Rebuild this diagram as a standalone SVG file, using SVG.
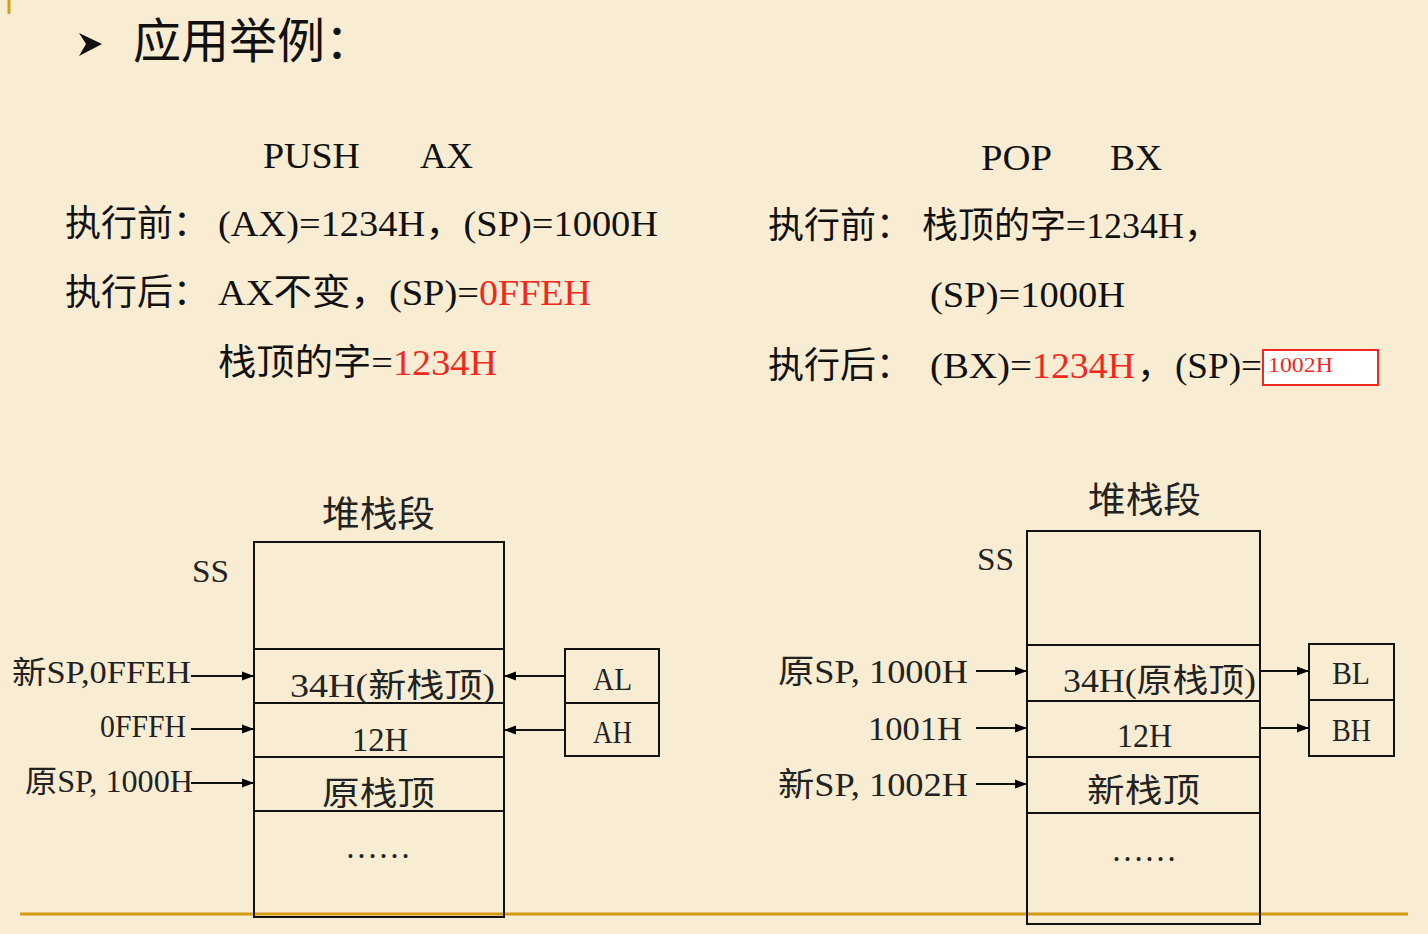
<svg xmlns="http://www.w3.org/2000/svg" width="1428" height="934" viewBox="0 0 1428 934">
<defs>
<marker id="ah" viewBox="0 0 12 10" refX="12" refY="5" markerWidth="12" markerHeight="10" markerUnits="userSpaceOnUse" orient="auto">
<path d="M0,0.5 L12,5 L0,9.5 z" fill="#000"/>
</marker>
</defs>
<style>
text{font-family:"Liberation Serif","Noto Sans CJK SC",serif;fill:#111}
.t{font-size:36px}
.red{fill:#f0281e}
.lbl{font-size:31px;fill:#222}
.cell{font-size:33px;fill:#222}
.box{fill:none;stroke:#111;stroke-width:2}
.conn line{stroke:#111;stroke-width:2;marker-end:url(#ah)}
</style>
<rect x="0" y="0" width="1428" height="934" fill="#f8edd3"/>
<line x1="9" y1="0" x2="9" y2="14" stroke="#d4a017" stroke-width="3"/>
<line x1="20" y1="914" x2="1408" y2="914" stroke="#d49a10" stroke-width="3"/>

<g id="title">
<polygon points="79,33 102,44 79,56 86,44" fill="#111"/>
<text x="133" y="58" style="font-size:48px">应用举例：</text>
</g>

<g id="push-text">
<text class="t" x="263" y="168" textLength="97" lengthAdjust="spacingAndGlyphs">PUSH</text>
<text class="t" x="420" y="168" textLength="53" lengthAdjust="spacingAndGlyphs">AX</text>
<text class="t" x="65" y="236">执行前：</text>
<text class="t" x="218" y="236" textLength="440" lengthAdjust="spacingAndGlyphs">(AX)=1234H，(SP)=1000H</text>
<text class="t" x="65" y="305">执行后：</text>
<text class="t" x="218" y="305" textLength="261" lengthAdjust="spacingAndGlyphs">AX不变，(SP)=</text>
<text class="t red" x="479" y="305" textLength="112" lengthAdjust="spacingAndGlyphs">0FFEH</text>
<text class="t" x="218" y="375" textLength="175" lengthAdjust="spacingAndGlyphs">栈顶的字=</text>
<text class="t red" x="393" y="375" textLength="104" lengthAdjust="spacingAndGlyphs">1234H</text>
</g>

<g id="pop-text">
<text class="t" x="981" y="170" textLength="71" lengthAdjust="spacingAndGlyphs">POP</text>
<text class="t" x="1110" y="170" textLength="52" lengthAdjust="spacingAndGlyphs">BX</text>
<text class="t" x="768" y="238">执行前：</text>
<text class="t" x="922" y="238" textLength="298" lengthAdjust="spacingAndGlyphs">栈顶的字=1234H，</text>
<text class="t" x="930" y="307" textLength="195" lengthAdjust="spacingAndGlyphs">(SP)=1000H</text>
<text class="t" x="768" y="378">执行后：</text>
<text class="t" x="930" y="378" textLength="102" lengthAdjust="spacingAndGlyphs">(BX)=</text>
<text class="t red" x="1032" y="378" textLength="103" lengthAdjust="spacingAndGlyphs">1234H</text>
<text class="t" x="1137" y="378">，</text>
<text class="t" x="1175" y="378" textLength="87" lengthAdjust="spacingAndGlyphs">(SP)=</text>
<rect x="1263" y="350" width="115" height="35" fill="#fff" stroke="#f0281e" stroke-width="2"/>
<text x="1268" y="372" class="red" style="font-size:20px" textLength="65" lengthAdjust="spacingAndGlyphs">1002H</text>
</g>

<g id="left-stack">
<text x="322" y="527" class="t" style="fill:#222" textLength="113" lengthAdjust="spacingAndGlyphs">堆栈段</text>
<text x="192" y="582" class="lbl" textLength="37" lengthAdjust="spacingAndGlyphs">SS</text>
<rect class="box" x="254" y="542" width="250" height="375"/>
<line class="box" x1="254" y1="649" x2="504" y2="649"/>
<line class="box" x1="254" y1="703" x2="504" y2="703"/>
<line class="box" x1="254" y1="757" x2="504" y2="757"/>
<line class="box" x1="254" y1="811" x2="504" y2="811"/>
<text x="290" y="697" class="cell" textLength="205" lengthAdjust="spacingAndGlyphs">34H(新栈顶)</text>
<text x="352" y="751" class="cell" textLength="56" lengthAdjust="spacingAndGlyphs">12H</text>
<text x="322" y="805" class="cell" textLength="113" lengthAdjust="spacingAndGlyphs">原栈顶</text>
<text x="378" y="858" class="cell" text-anchor="middle">……</text>
</g>

<g id="left-labels">
<text x="12" y="683" class="lbl" textLength="179" lengthAdjust="spacingAndGlyphs">新SP,0FFEH</text>
<text x="100" y="737" class="lbl" textLength="86" lengthAdjust="spacingAndGlyphs">0FFFH</text>
<text x="25" y="792" class="lbl" textLength="168" lengthAdjust="spacingAndGlyphs">原SP, 1000H</text>
</g>

<g id="ax-reg">
<rect class="box" x="565" y="649" width="94" height="107"/>
<line class="box" x1="565" y1="703" x2="659" y2="703"/>
<text x="593" y="690" class="lbl" textLength="39" lengthAdjust="spacingAndGlyphs">AL</text>
<text x="593" y="743" class="lbl" textLength="39" lengthAdjust="spacingAndGlyphs">AH</text>
</g>

<g id="right-stack">
<text x="1088" y="513" class="t" style="fill:#222" textLength="113" lengthAdjust="spacingAndGlyphs">堆栈段</text>
<text x="977" y="570" class="lbl" textLength="37" lengthAdjust="spacingAndGlyphs">SS</text>
<rect class="box" x="1027" y="531" width="233" height="393"/>
<line class="box" x1="1027" y1="645" x2="1260" y2="645"/>
<line class="box" x1="1027" y1="701" x2="1260" y2="701"/>
<line class="box" x1="1027" y1="757" x2="1260" y2="757"/>
<line class="box" x1="1027" y1="813" x2="1260" y2="813"/>
<text x="1063" y="692" class="cell" textLength="193" lengthAdjust="spacingAndGlyphs">34H(原栈顶)</text>
<text x="1117" y="747" class="cell" textLength="55" lengthAdjust="spacingAndGlyphs">12H</text>
<text x="1087" y="802" class="cell" textLength="113" lengthAdjust="spacingAndGlyphs">新栈顶</text>
<text x="1144" y="861" class="cell" text-anchor="middle">……</text>
</g>

<g id="right-labels">
<text x="778" y="683" class="lbl" style="font-size:33px" textLength="190" lengthAdjust="spacingAndGlyphs">原SP, 1000H</text>
<text x="868" y="740" class="lbl" style="font-size:33px" textLength="94" lengthAdjust="spacingAndGlyphs">1001H</text>
<text x="778" y="796" class="lbl" style="font-size:33px" textLength="190" lengthAdjust="spacingAndGlyphs">新SP, 1002H</text>
</g>

<g id="bx-reg">
<rect class="box" x="1309" y="644" width="85" height="112"/>
<line class="box" x1="1309" y1="700" x2="1394" y2="700"/>
<text x="1332" y="684" class="lbl" textLength="38" lengthAdjust="spacingAndGlyphs">BL</text>
<text x="1332" y="741" class="lbl" textLength="39" lengthAdjust="spacingAndGlyphs">BH</text>
</g>

<g id="connectors" class="conn">
<line x1="191" y1="676" x2="254" y2="676"/>
<line x1="191" y1="729" x2="254" y2="729"/>
<line x1="191" y1="783" x2="254" y2="783"/>
<line x1="565" y1="676" x2="504" y2="676"/>
<line x1="565" y1="730" x2="504" y2="730"/>
<line x1="976" y1="671" x2="1027" y2="671"/>
<line x1="976" y1="728" x2="1027" y2="728"/>
<line x1="976" y1="784" x2="1027" y2="784"/>
<line x1="1260" y1="671" x2="1309" y2="671"/>
<line x1="1260" y1="728" x2="1309" y2="728"/>
</g>
</svg>
